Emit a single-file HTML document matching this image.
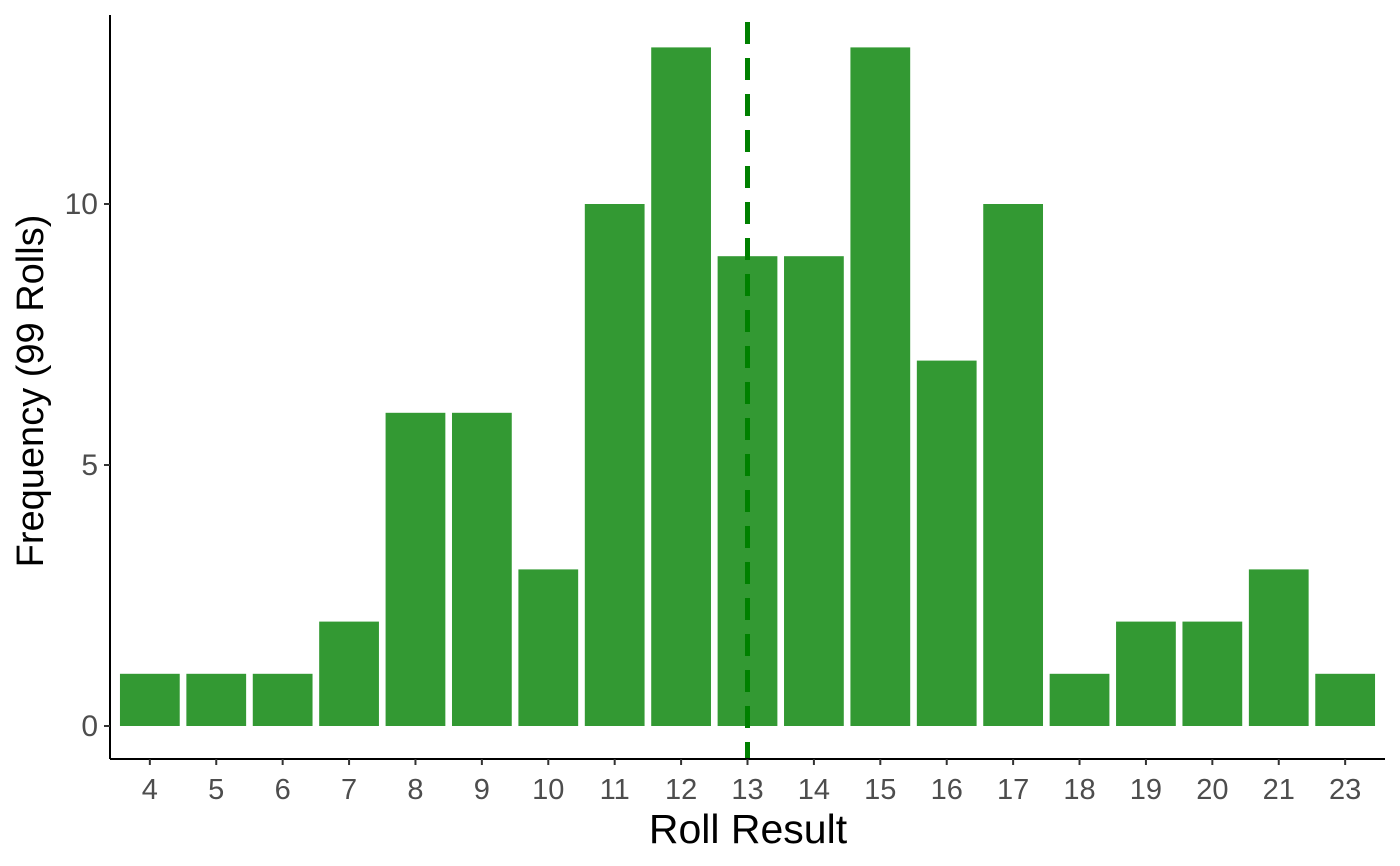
<!DOCTYPE html>
<html><head><meta charset="utf-8"><style>
html,body{margin:0;padding:0;background:#fff;}
svg{display:block;font-family:"Liberation Sans",sans-serif;}
</style></head><body>
<svg id="chart" width="1400" height="866" viewBox="0 0 1400 866">
<g id="bars"></g>
<g id="xaxis"></g>
<g id="yaxis"></g>
<text x="748" y="843" font-size="41" text-anchor="middle" fill="#000">Roll Result</text>
<text transform="translate(43,391) rotate(-90)" font-size="38" text-anchor="middle" fill="#000">Frequency (99 Rolls)</text>
</svg>
<script>
const categories = ["4","5","6","7","8","9","10","11","12","13","14","15","16","17","18","19","20","21","23"];
const counts = [1,1,1,2,6,6,3,10,13,9,9,13,7,10,1,2,2,3,1];
const yTicks = [0,5,10];
const meanCategory = "13";

const NS="http://www.w3.org/2000/svg";
const pLeft=110, pRight=1385, pTop=15, pBottom=759;
const y0=726, pxPerUnit=52.2;
const n=categories.length;
const band=(pRight-pLeft)/(n+0.2);
function xPos(i){return pLeft+band*(0.6+i);}
function yPos(v){return y0-v*pxPerUnit;}
function mk(tag,attrs,parent){const e=document.createElementNS(NS,tag);for(const k in attrs)e.setAttribute(k,attrs[k]);parent.appendChild(e);return e;}
const gb=document.getElementById('bars'),gx=document.getElementById('xaxis'),gy=document.getElementById('yaxis');
const bw=band*0.9;
counts.forEach((v,i)=>{
  const r=mk('rect',{x:xPos(i)-bw/2,y:yPos(v),width:bw,height:yPos(0)-yPos(v),fill:'#339933'},gb);
  
  
});
const mi=categories.indexOf(meanCategory);
const ml=mk('line',{x1:xPos(mi),x2:xPos(mi),y1:pTop+7,y2:pBottom,stroke:'#008000','stroke-width':5,'stroke-dasharray':'22,14'},gb);


const xl=mk('line',{x1:pLeft,x2:pRight,y1:pBottom,y2:pBottom,stroke:'#000','stroke-width':2},gx);


categories.forEach((c,i)=>{
  const t=mk('line',{x1:xPos(i),x2:xPos(i),y1:pBottom,y2:pBottom+6,stroke:'#333','stroke-width':2},gx);
  
  
  const l=mk('text',{x:xPos(i),y:pBottom+40,'font-size':29,'text-anchor':'middle',fill:'#4d4d4d'},gx);
  l.textContent=c;
  
  
});
const yl=mk('line',{x1:pLeft,x2:pLeft,y1:pTop,y2:pBottom,stroke:'#000','stroke-width':2},gy);


yTicks.forEach(v=>{
  const t=mk('line',{x1:pLeft-6,x2:pLeft,y1:yPos(v),y2:yPos(v),stroke:'#333','stroke-width':2},gy);
  
  
  const l=mk('text',{x:pLeft-12,y:yPos(v)+10,'font-size':30,'text-anchor':'end',fill:'#4d4d4d'},gy);
  l.textContent=v;
  
  
});
</script>
</body></html>
